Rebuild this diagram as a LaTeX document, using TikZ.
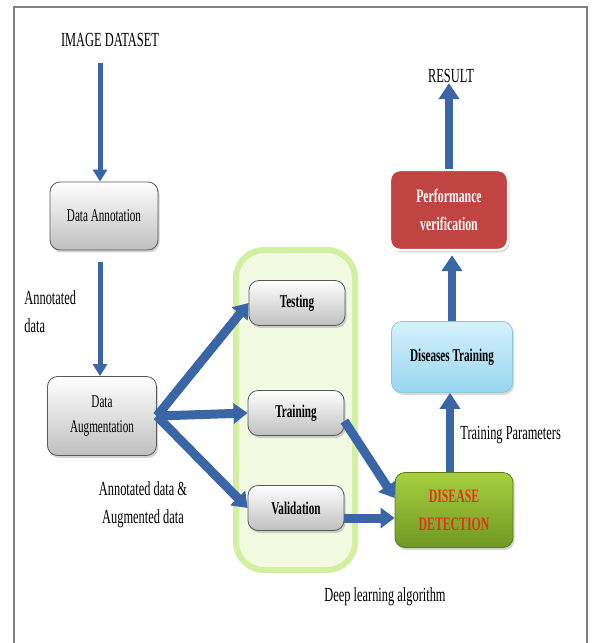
\documentclass[tikz,border=0pt]{standalone}
\usepackage{fontspec}
\setmainfont{Liberation Serif}[FakeStretch=0.62]
\usepackage{tikz}
\usetikzlibrary{arrows.meta,shadows,positioning}
\definecolor{arrowblue}{RGB}{58,102,168}
\definecolor{perfred}{RGB}{192,68,66}
\definecolor{detectred}{RGB}{226,52,28}
\definecolor{detecttop}{RGB}{168,208,64}
\definecolor{detectbot}{RGB}{112,152,34}
\definecolor{bluetop}{RGB}{214,241,252}
\definecolor{bluebot}{RGB}{150,214,240}
\definecolor{lgreen}{RGB}{210,240,160}

\begin{document}
\begin{tikzpicture}
[
  x = 0.5pt, y = -0.5pt,
  label/.style      = {font=\fontsize{10}{14}\selectfont, inner sep=0pt},
  graybox/.style    = {shape=rectangle, rounded corners=5pt, draw=gray!70!black,
                       top color=white, bottom color=gray!50,
                       font=\fontsize{9}{12.5}\selectfont, align=center,
                       drop shadow={opacity=0.35, shadow xshift=0.8pt, shadow yshift=-1.2pt}},
  stepbox/.style    = {graybox, font=\fontsize{9}{12}\selectfont\bfseries,
                       minimum width=48pt, minimum height=22.5pt},
  group/.style      = {shape=rectangle, rounded corners=14pt, draw=lgreen,
                       line width=3pt, fill=lgreen!30},
  flow/.style       = {draw=arrowblue, line width=2.5pt,
                       -{Triangle[width=7pt, length=6pt]}},
  fanout/.style     = {draw=arrowblue, line width=4.5pt,
                       -{Triangle[width=10pt, length=7pt]}},
  upflow/.style     = {draw=arrowblue, line width=4pt,
                       -{Triangle[width=10pt, length=8pt]}}
]
\useasboundingbox (0,0) rectangle (594,643);
\draw [gray, line width=0.7pt] (14,660) |- (587,7) -- (587,660);

\node [group, minimum width=59.5pt, minimum height=160pt] (deep) at (295.5,410) {};

\node [label] (dataset) at (110,40) {IMAGE DATASET};
\node [graybox, minimum width=54pt, minimum height=34pt] (annot) at (104,216) {Data Annotation};
\node [graybox, minimum width=54.5pt, minimum height=39.5pt] (augm) at (102,416) {Data\\Augmentation};
\node [label, align=left, anchor=north west] (annlbl) at (24,290) {Annotated\\data};
\node [label, align=center] (mixlbl) at (143,505) {Annotated data \&\\Augmented data};

\node [stepbox] (test)  at (297,303) {Testing};
\node [stepbox] (train) at (296,413) {Training};
\node [stepbox] (valid) at (296,508) {Validation};
\node [label] (deeplbl) at (385,597) {Deep learning algorithm};

\node [shape=rectangle, rounded corners=5pt, draw=detectbot!80!black,
       top color=detecttop, bottom color=detectbot,
       font=\fontsize{9.5}{14}\selectfont\bfseries, text=detectred, align=center,
       minimum width=59pt, minimum height=37.5pt,
       drop shadow={opacity=0.35, shadow xshift=0.8pt, shadow yshift=-1.2pt}]
  (detect) at (454,510) {DISEASE\\DETECTION};
\node [label, anchor=west] (paramlbl) at (460,435) {Training Parameters};
\node [shape=rectangle, rounded corners=5pt, draw=bluebot!80!gray,
       top color=bluetop, bottom color=bluebot,
       font=\fontsize{9}{12}\selectfont\bfseries, align=center,
       minimum width=60.5pt, minimum height=35.5pt,
       drop shadow={opacity=0.3, shadow xshift=0.8pt, shadow yshift=-1.2pt}]
  (distrain) at (452,357) {Diseases Training};
\node [shape=rectangle, rounded corners=5pt, draw=white, line width=1.2pt,
       fill=perfred, text=white,
       font=\fontsize{9.5}{14}\selectfont\bfseries, align=center,
       minimum width=59pt, minimum height=40pt,
       drop shadow={opacity=0.35, shadow xshift=0.8pt, shadow yshift=-1.2pt}]
  (perf) at (449,210) {Performance\\verification};
\node [label] (result) at (451,76) {RESULT};

\draw [flow] ([xshift=-2pt,yshift=-8pt]annot.north |- dataset.south) -- ([xshift=-2pt]annot.north);
\draw [flow, shorten <=6pt] ([xshift=-2pt]annot.south) -- ([xshift=-2pt]annot.south |- augm.north);

\draw [fanout] (augm.east) -- (test.west);
\draw [fanout] (augm.east) -- (train.west);
\draw [fanout] (augm.east) -- (valid.west);

\draw [fanout] ([yshift=-4pt]train.east) -- ([yshift=6pt]detect.west);
\draw [fanout] ([yshift=-5pt]valid.east) -- ([yshift=-5pt]valid.east -| detect.west);

\draw [upflow] ([xshift=-2pt]detect.north) -- ([xshift=-2pt]detect.north |- distrain.south);
\draw [upflow, shorten >=2pt] (distrain.north) -- (distrain.north |- perf.south);
\draw [upflow] (perf.north) -- (perf.north |- result.south);
\end{tikzpicture}
\end{document}
